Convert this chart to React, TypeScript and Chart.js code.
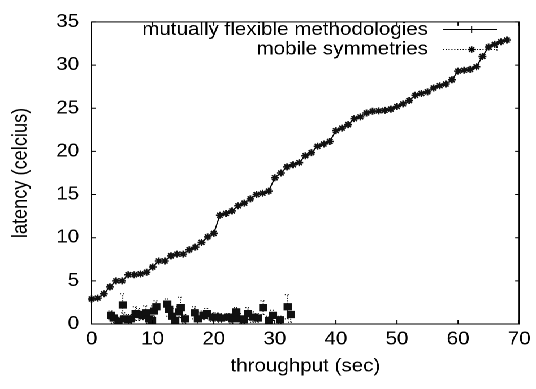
import React, { useEffect, useRef } from 'react';
import { Chart, registerables } from 'chart.js';

Chart.register(...registerables);

const seriesAName = 'mutually flexible methodologies';
const seriesBName = 'mobile symmetries';
const xTitle = 'throughput (sec)';
const yTitle = 'latency (celcius)';

const xTicks = [0, 10, 20, 30, 40, 50, 60, 70];
const yTicks = [0, 5, 10, 15, 20, 25, 30, 35];

const flexX = [
  0, 1, 2, 3, 4, 5, 6, 7, 8, 9, 10, 11, 12, 13, 14, 15, 16, 17, 18, 19, 20,
  21, 22, 23, 24, 25, 26, 27, 28, 29, 30, 31, 32, 33, 34, 35, 36, 37, 38, 39, 40,
  41, 42, 43, 44, 45, 46, 47, 48, 49, 50, 51, 52, 53, 54, 55, 56, 57, 58, 59, 60,
  61, 62, 63, 64, 65, 66, 67, 68,
];
const flexY = [
  2.9, 3.0, 3.5, 4.3, 5.0, 5.0, 5.7, 5.7, 5.8, 6.0, 6.6, 7.3, 7.3, 7.9, 8.1, 8.1, 8.6, 8.9, 9.45, 10.1, 10.5,
  12.6, 12.8, 13.1, 13.7, 14.0, 14.5, 15.0, 15.15, 15.4, 16.95, 17.5, 18.2, 18.45, 18.7, 19.5, 19.85, 20.6, 20.85, 21.15, 22.4,
  22.7, 23.1, 23.8, 24.0, 24.45, 24.65, 24.7, 24.75, 24.9, 25.2, 25.5, 25.9, 26.5, 26.7, 26.9, 27.35, 27.6, 27.8, 28.3, 29.3,
  29.4, 29.5, 29.8, 31.0, 32.1, 32.4, 32.7, 32.9,
];

const mobileX = [
  3.2, 3.6, 4.4, 5.1, 5.3, 6.0, 6.4, 7.2, 7.7, 8.3, 8.9, 9.4, 9.9, 10.2, 10.6,
  12.4, 12.7, 13.2, 13.7, 14.3, 14.6, 15.3, 16.9, 17.4, 18.3, 18.9, 19.8, 20.6, 21.2, 22.4,
  23.0, 23.7, 24.3, 24.9, 25.6, 26.4, 27.2, 28.1, 29.0, 29.7, 30.9, 32.1, 32.6,
];
const mobileY = [
  1.0, 0.7, 0.3, 2.2, 0.6, 0.5, 0.6, 1.2, 1.1, 1.0, 1.3, 0.6, 0.4, 1.5, 2.0,
  2.3, 1.7, 0.9, 0.4, 1.4, 1.9, 0.6, 1.3, 0.6, 1.0, 1.2, 0.8, 0.8, 0.7, 0.8,
  0.6, 1.4, 0.6, 0.5, 1.2, 0.8, 0.7, 1.9, 0.4, 1.0, 0.5, 2.0, 1.1,
];
const mobileErr = [
  0.5, 0.6, 0.5, 1.3, 0.7, 0.6, 0.5, 0.8, 0.7, 0.5, 0.8, 0.5, 0.5, 0.6, 0.7,
  0.6, 0.8, 0.9, 0.4, 0.6, 1.2, 0.5, 0.7, 0.8, 0.5, 0.6, 0.5, 0.5, 0.5, 0.4,
  0.5, 0.5, 0.6, 0.4, 0.7, 0.6, 0.5, 0.8, 0.5, 0.6, 0.4, 1.4, 0.9,
];

const W = 474;
const H = 389;
const STRETCH = 536 / W;
const FONT = "'Liberation Sans', Arial, Helvetica, sans-serif";
const FSIZE = 18.2;

function drawStar(ctx: CanvasRenderingContext2D, x: number, y: number, r: number) {
  ctx.beginPath();
  ctx.moveTo(x - r, y); ctx.lineTo(x + r, y);
  ctx.moveTo(x, y - r); ctx.lineTo(x, y + r);
  const d = r * 0.7071;
  ctx.moveTo(x - d, y - d); ctx.lineTo(x + d, y + d);
  ctx.moveTo(x - d, y + d); ctx.lineTo(x + d, y - d);
  ctx.stroke();
}

const gnuplotPlugin = {
  id: 'gnuplotLook',
  beforeDatasetsDraw(chart: any) {
    const { ctx, chartArea: a, scales } = chart;
    const xs = scales.x;
    const ys = scales.y;
    ctx.save();
    ctx.beginPath();
    ctx.rect(a.left, a.top, a.right - a.left, a.bottom - a.top);
    ctx.clip();
    ctx.strokeStyle = '#000';
    ctx.lineWidth = 1;
    ctx.setLineDash([1, 1.5]);
    const cap = 2.5;
    mobileX.forEach((xv, i) => {
      const px = xs.getPixelForValue(xv);
      const lo = ys.getPixelForValue(mobileY[i] - mobileErr[i]);
      const hi = ys.getPixelForValue(mobileY[i] + mobileErr[i]);
      ctx.beginPath();
      ctx.moveTo(px, lo); ctx.lineTo(px, hi);
      ctx.moveTo(px - cap, hi); ctx.lineTo(px + cap, hi);
      ctx.moveTo(px - cap, lo); ctx.lineTo(px + cap, lo);
      ctx.stroke();
    });
    ctx.restore();
  },
  afterDraw(chart: any) {
    const { ctx, chartArea: a, scales } = chart;
    const xs = scales.x;
    const ys = scales.y;
    ctx.save();
    ctx.strokeStyle = '#000';
    ctx.lineWidth = 1;
    // frame
    ctx.strokeRect(a.left, a.top, a.right - a.left, a.bottom - a.top);
    // inner ticks
    ctx.beginPath();
    xTicks.forEach((v) => {
      const px = xs.getPixelForValue(v);
      ctx.moveTo(px, a.bottom); ctx.lineTo(px, a.bottom - 4);
      ctx.moveTo(px, a.top); ctx.lineTo(px, a.top + 4);
    });
    yTicks.forEach((v) => {
      const py = ys.getPixelForValue(v);
      ctx.moveTo(a.left, py); ctx.lineTo(a.left + 3.5, py);
      ctx.moveTo(a.right, py); ctx.lineTo(a.right - 3.5, py);
    });
    ctx.stroke();

    // legend
    ctx.fillStyle = '#000';
    ctx.font = `${FSIZE}px ${FONT}`;
    ctx.textAlign = 'right';
    ctx.textBaseline = 'alphabetic';
    const textRight = 378.5;
    const x0 = 391.7;
    const x1 = 439.5;
    const mx = (x0 + x1) / 2 + 1.5;
    ctx.fillText(seriesAName, textRight, 35);
    ctx.fillText(seriesBName, textRight, 54.5);
    // row 1 sample: solid line with +
    ctx.beginPath();
    ctx.moveTo(x0, 29.5); ctx.lineTo(x1, 29.5);
    ctx.moveTo(mx, 26); ctx.lineTo(mx, 33);
    ctx.stroke();
    // row 2 sample: dotted with star
    ctx.setLineDash([1, 1.5]);
    ctx.beginPath();
    ctx.moveTo(x0, 49.5); ctx.lineTo(x1, 49.5);
    ctx.moveTo(x1, 47); ctx.lineTo(x1, 52);
    ctx.stroke();
    ctx.setLineDash([]);
    ctx.lineWidth = 1.3;
    drawStar(ctx, mx, 49.5, 3.3);
    ctx.restore();
  },
};

export default function App() {
  const ref = useRef<HTMLCanvasElement | null>(null);

  useEffect(() => {
    if (!ref.current) return;
    const tickFont = { family: FONT, size: FSIZE };
    const chart = new Chart(ref.current, {
      type: 'scatter',
      data: {
        datasets: [
          {
            label: seriesAName,
            data: flexX.map((x, i) => ({ x, y: flexY[i] })),
            showLine: true,
            borderColor: '#000',
            backgroundColor: '#000',
            borderWidth: 1.1,
            pointStyle: 'star',
            pointRadius: 3.5,
            pointBorderWidth: 1.5,
            pointBorderColor: '#111',
            clip: false as any,
          },
          {
            label: seriesBName,
            data: mobileX.map((x, i) => ({ x, y: mobileY[i] })),
            showLine: false,
            pointStyle: 'rect',
            pointRadius: 4.4,
            pointBorderWidth: 1,
            pointBorderColor: '#111',
            pointBackgroundColor: '#111',
          },
        ],
      },
      options: {
        animation: false,
        responsive: false,
        devicePixelRatio: 2,
        layout: { padding: { left: 0, top: 13, right: 12, bottom: 0 } },
        plugins: {
          legend: { display: false },
          tooltip: { enabled: false },
        },
        scales: {
          x: {
            type: 'linear',
            min: 0,
            max: 70,
            afterFit: (s: any) => { s.height = 65; },
            afterBuildTicks: (s: any) => { s.ticks = xTicks.map((v) => ({ value: v })); },
            grid: { display: false, drawTicks: false },
            border: { display: false },
            ticks: {
              color: '#000',
              font: tickFont,
              padding: 4.8,
              maxRotation: 0,
              autoSkip: false,
              callback: (v: any) => String(v),
            },
            title: {
              display: true,
              text: xTitle,
              color: '#000',
              font: tickFont,
              padding: { top: 0, bottom: 11.4 },
            },
          },
          y: {
            type: 'linear',
            min: 0,
            max: 35,
            afterFit: (s: any) => { s.width = 81; },
            afterBuildTicks: (s: any) => { s.ticks = yTicks.map((v) => ({ value: v })); },
            grid: { display: false, drawTicks: false },
            border: { display: false },
            ticks: {
              color: '#000',
              font: tickFont,
              padding: 11,
              autoSkip: false,
              callback: (v: any) => String(v),
            },
            title: {
              display: true,
              text: yTitle,
              color: '#000',
              font: tickFont,
              padding: { top: 7.5, bottom: 0 },
            },
          },
        },
      },
      plugins: [gnuplotPlugin],
    });
    return () => chart.destroy();
  }, []);

  return (
    <div
      style={{
        position: 'fixed',
        left: 0,
        top: 0,
        width: W,
        height: H,
        background: '#fff',
        transform: `scaleX(${STRETCH})`,
        transformOrigin: '0 0',
      }}
    >
      <canvas ref={ref} width={W} height={H} style={{ display: 'block' }} />
    </div>
  );
}
